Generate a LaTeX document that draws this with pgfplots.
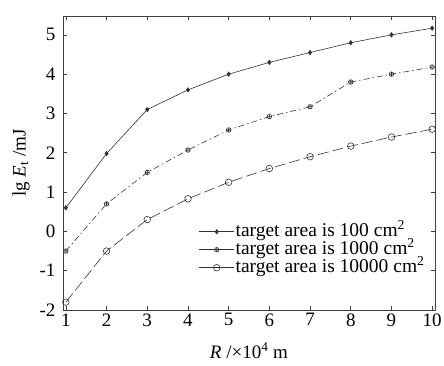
\documentclass[border=0pt]{standalone}
\usepackage{pgfplots}
\pgfplotsset{compat=1.18}
\usepackage{fontspec}
\setmainfont{Liberation Serif}
\begin{document}
\begin{tikzpicture}
\path[use as bounding box] (-63pt,-55pt) rectangle (381pt,310pt);
\begin{axis}[
  at={(0,0)}, anchor=south west,
  scale only axis, width=372pt, height=294pt,
  xmin=0.93, xmax=10.07, ymin=-2, ymax=5.48,
  xtick={1,...,10}, ytick={-2,...,5},
  tick align=inside, tick pos=both, major tick length=4pt,
  axis line style={line width=0.9pt, black!75},
  tick style={black!75, line width=0.6pt},
  /pgf/number format/assume math mode=true,
  ticklabel style={font=\fontsize{19}{19}\selectfont},
  yticklabel style={xshift=-4pt},
  label style={font=\fontsize{19}{19}\selectfont},
  xlabel={\textit{R} /×10\textsuperscript{4} m},
  ylabel={lg \textit{E}\textsubscript{t} /mJ},
  xlabel style={at={(axis description cs:0.5,-0.112)}, anchor=north, inner sep=0pt},
  ylabel style={at={(axis description cs:-0.089,0.5)}, anchor=south, inner sep=0pt},
  legend style={draw=none, fill=none, at={(axis description cs:0.975,0.205)}, anchor=east,
    font=\fontsize{19.5}{17}\selectfont, row sep=0pt, inner sep=0pt,
    nodes={text height=14pt, text depth=4pt, inner ysep=0pt, inner xsep=1pt, outer sep=0pt}},
  legend cell align=left,
  legend image code/.code={\draw[solid,#1] (0pt,0pt) -- (35pt,0pt) plot coordinates {(17.5pt,0pt)};},
]
\addplot[black!80, line width=0.6pt, mark=diamond*, mark size=2.2pt, mark options={solid}] coordinates {
(1,0.6) (2,1.98) (3,3.1) (4,3.6) (5,4.0) (6,4.3) (7,4.55) (8,4.8) (9,5.0) (10,5.17)};
\addlegendentry{target area is 100 cm\textsuperscript{2}}
\addplot[black!80, line width=0.6pt, dash pattern=on 6pt off 3pt on 1.5pt off 3pt, mark=oplus, mark size=2.3pt, mark options={solid}] coordinates {
(1,-0.5) (2,0.7) (3,1.5) (4,2.07) (5,2.58) (6,2.92) (7,3.17) (8,3.8) (9,4.0) (10,4.18)};
\addlegendentry{target area is 1000 cm\textsuperscript{2}}
\addplot[black!80, line width=0.6pt, dash pattern=on 11pt off 4pt, mark=o, mark size=3.3pt, mark options={solid}] coordinates {
(1,-1.8) (2,-0.5) (3,0.3) (4,0.83) (5,1.25) (6,1.6) (7,1.9) (8,2.17) (9,2.4) (10,2.6)};
\addlegendentry{target area is 10000 cm\textsuperscript{2}}
\end{axis}
\end{tikzpicture}
\end{document}
